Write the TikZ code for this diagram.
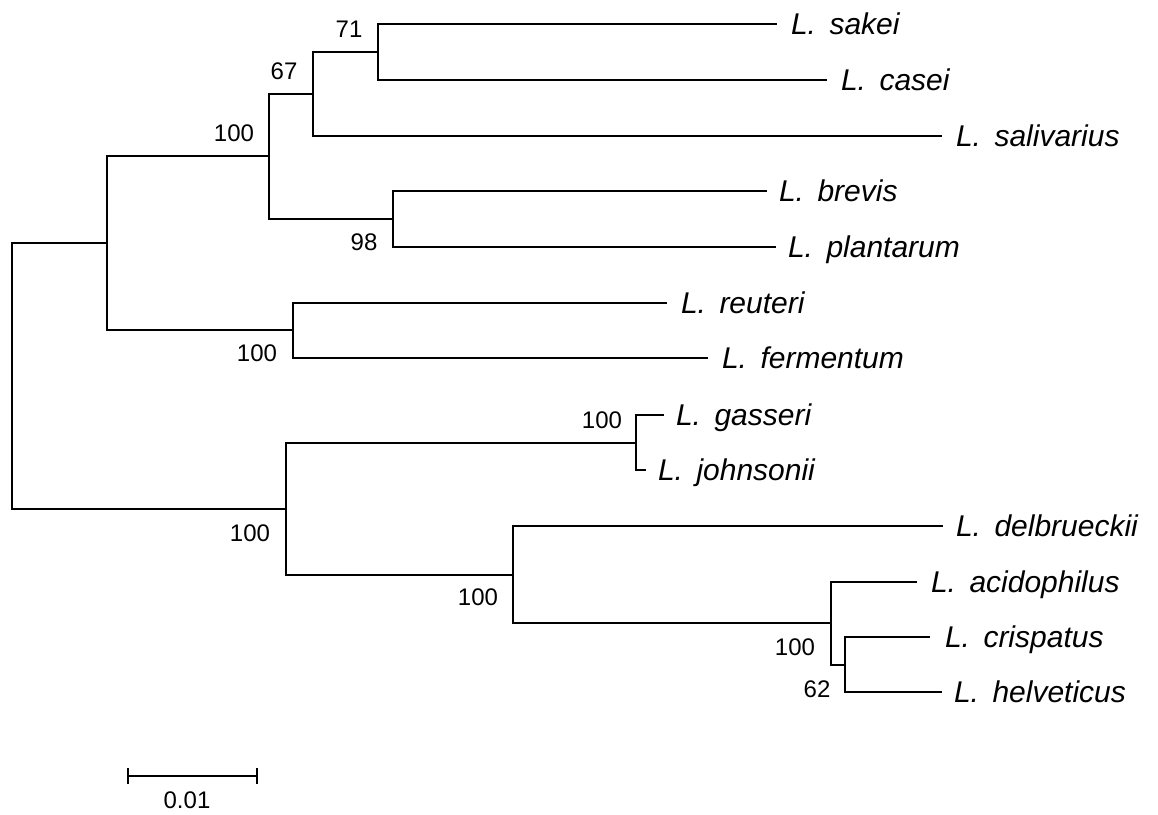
\documentclass[tikz,border=0pt]{standalone}
\usepackage{fontspec}
\setmainfont{Liberation Sans}
\usepackage{tikz}
\usetikzlibrary{positioning}
\tikzset{
    taxon/.style={
           inner sep=0pt,
           yshift=-10.5pt,
           font=\fontsize{30}{36}\selectfont\itshape
           },
    boot/.style={
           inner sep=0pt,
           font=\fontsize{24}{28}\selectfont
           },
    branch/.style={
           to path={|- (\tikztotarget)}
           }
}

\begin{document}
\begin{tikzpicture}[x=1pt, y=-1pt, line width=2pt]
   \useasboundingbox (0,0) rectangle (1158,814);
   % tips
   \coordinate (sakei) at (777,24);
   \coordinate (casei) at (827,80);
   \coordinate (salivarius) at (942,136);
   \coordinate (brevis) at (767,191);
   \coordinate (plantarum) at (776,247);
   \coordinate (reuteri) at (667,303);
   \coordinate (fermentum) at (708,358);
   \coordinate (gasseri) at (664,415);
   \coordinate (johnsonii) at (646,470);
   \coordinate (delbrueckii) at (943,526);
   \coordinate (acidophilus) at (917,582);
   \coordinate (crispatus) at (930,637);
   \coordinate (helveticus) at (942,692);
   % inner nodes
   \coordinate (n71) at (378,52);
   \coordinate (n67) at (313,94);
   \coordinate (n98) at (393,219);
   \coordinate (nsak) at (269,156);
   \coordinate (nreu) at (293,330);
   \coordinate (ntop) at (107,243);
   \coordinate (ngas) at (636,443);
   \coordinate (n62) at (845,665);
   \coordinate (nacid) at (831,623);
   \coordinate (ndel) at (513,575);
   \coordinate (nlow) at (286,509);
   \coordinate (root) at (12,376);
   \path
    (root) edge[branch] (ntop) edge[branch] (nlow)
    (ntop) edge[branch] (nsak) edge[branch] (nreu)
    (nsak) edge[branch] (n67) edge[branch] (n98)
    (n67) edge[branch] (n71) edge[branch] (salivarius)
    (n71) edge[branch] (sakei) edge[branch] (casei)
    (n98) edge[branch] (brevis) edge[branch] (plantarum)
    (nreu) edge[branch] (reuteri) edge[branch] (fermentum)
    (nlow) edge[branch] (ngas) edge[branch] (ndel)
    (ngas) edge[branch] (gasseri) edge[branch] (johnsonii)
    (ndel) edge[branch] (delbrueckii) edge[branch] (nacid)
    (nacid) edge[branch] (acidophilus) edge[branch] (n62)
    (n62) edge[branch] (crispatus) edge[branch] (helveticus);
   % taxon names
   \node[taxon, base right=13pt of sakei] (tsakei) {L.\hspace{0.45em}sakei};
   \node[taxon, base right=13pt of casei] (tcasei) {L.\hspace{0.45em}casei};
   \node[taxon, base right=13pt of salivarius] (tsalivarius) {L.\hspace{0.45em}salivarius};
   \node[taxon, base right=11pt of brevis] (tbrevis) {L.\hspace{0.45em}brevis};
   \node[taxon, base right=11pt of plantarum] (tplantarum) {L.\hspace{0.45em}plantarum};
   \node[taxon, base right=13pt of reuteri] (treuteri) {L.\hspace{0.45em}reuteri};
   \node[taxon, base right=13pt of fermentum] (tfermentum) {L.\hspace{0.45em}fermentum};
   \node[taxon, base right=11pt of gasseri] (tgasseri) {L.\hspace{0.45em}gasseri};
   \node[taxon, base right=11pt of johnsonii] (tjohnsonii) {L.\hspace{0.45em}johnsonii};
   \node[taxon, base right=12pt of delbrueckii] (tdelbrueckii) {L.\hspace{0.45em}delbrueckii};
   \node[taxon, base right=13pt of acidophilus] (tacidophilus) {L.\hspace{0.45em}acidophilus};
   \node[taxon, base right=14pt of crispatus] (tcrispatus) {L.\hspace{0.45em}crispatus};
   \node[taxon, base right=11pt of helveticus] (thelveticus) {L.\hspace{0.45em}helveticus};
   % bootstrap values
   \node[boot] (b71) at (349,29) {71};
   \node[boot] (b67) at (284,71) {67};
   \node[boot] (bsak) at (234,133) {100};
   \node[boot] (b98) at (364,242) {98};
   \node[boot] (breu) at (257,353) {100};
   \node[boot] (bgas) at (602,420) {100};
   \node[boot] (blow) at (250,533) {100};
   \node[boot] (bdel) at (478,597) {100};
   \node[boot] (bacid) at (795,647) {100};
   \node[boot] (b62) at (817,689) {62};
   % scale bar
   \coordinate (barL) at (128,776);
   \coordinate (barR) at (257,776);
   \draw (barL) -- (barR);
   \draw ([yshift=8pt]barL) -- ([yshift=-8pt]barL);
   \draw ([yshift=8pt]barR) -- ([yshift=-8pt]barR);
   \node[boot] (bar) at (187,800) {0.01};
\end{tikzpicture}
\end{document}
